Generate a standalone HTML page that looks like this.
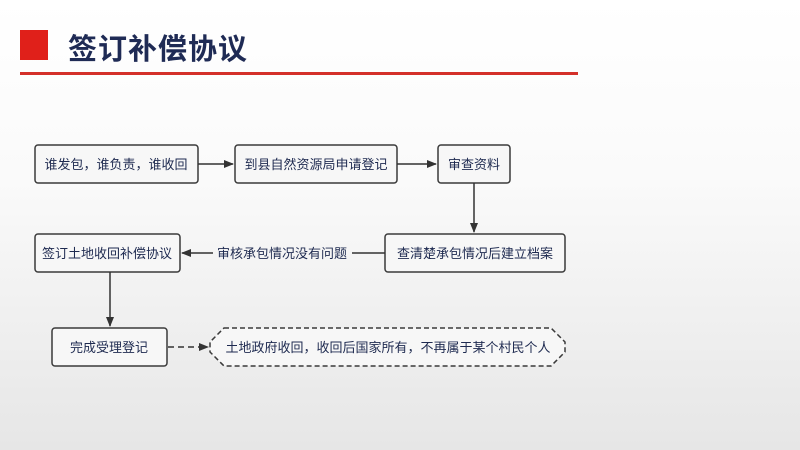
<!DOCTYPE html>
<html><head><meta charset="utf-8"><style>
body{margin:0;width:800px;height:450px;overflow:hidden;background:linear-gradient(#ffffff 0%,#fafafa 40%,#e6e6e6 100%);font-family:"Liberation Sans","Noto Sans CJK SC",sans-serif;position:relative}
.t{position:absolute;left:68px;top:26px;font-size:29px;font-weight:bold;color:#1f2b55;letter-spacing:1px}
.sq{position:absolute;left:20px;top:30px;width:28px;height:30px;background:#e0201a}
.ln{position:absolute;left:20px;top:72px;width:558px;height:3px;background:#d4302a}
</style></head><body>
<div class="sq"></div><div class="t">签订补偿协议</div><div class="ln"></div>
<svg width="800" height="450" style="position:absolute;left:0;top:0" font-family="Liberation Sans,Noto Sans CJK SC,sans-serif" font-size="13" fill="#1e2a50">
<defs><marker id="a" markerWidth="10" markerHeight="8" refX="9" refY="4" orient="auto" markerUnits="userSpaceOnUse"><path d="M0,0L10,4L0,8z" fill="#333"/></marker></defs>
<g stroke="#3a3a3a" stroke-width="1.5" fill="#f7f7f7">
<rect x="35" y="145" width="163" height="38" rx="3"/>
<rect x="235" y="145" width="162" height="38" rx="3"/>
<rect x="438" y="145" width="72" height="38" rx="3"/>
<rect x="35" y="234" width="145" height="38" rx="3"/>
<rect x="385" y="234" width="180" height="38" rx="3"/>
<rect x="52" y="328" width="115" height="38" rx="3"/>
<path d="M224,328H551L565,342V352L551,366H224L210,352V342Z" stroke-dasharray="5,3"/>
</g>
<g stroke="#333" stroke-width="1.5" fill="none">
<line x1="198" y1="164" x2="233" y2="164" marker-end="url(#a)"/>
<line x1="397" y1="164" x2="436" y2="164" marker-end="url(#a)"/>
<line x1="474" y1="183" x2="474" y2="232" marker-end="url(#a)"/>
<line x1="385" y1="253" x2="352" y2="253"/>
<line x1="213" y1="253" x2="182" y2="253" marker-end="url(#a)"/>
<line x1="110" y1="272" x2="110" y2="326" marker-end="url(#a)"/>
<line x1="168" y1="347" x2="208" y2="347" stroke-dasharray="6,4" marker-end="url(#a)"/>
</g>
<g text-anchor="middle" stroke="none">
<text x="116" y="169">谁发包，谁负责，谁收回</text>
<text x="316" y="169">到县自然资源局申请登记</text>
<text x="474" y="169">审查资料</text>
<text x="107" y="258">签订土地收回补偿协议</text>
<text x="475" y="258">查清楚承包情况后建立档案</text>
<text x="282" y="258">审核承包情况没有问题</text>
<text x="109" y="352">完成受理登记</text>
<text x="388" y="352">土地政府收回，收回后国家所有，不再属于某个村民个人</text>
</g>
</svg>
</body></html>
